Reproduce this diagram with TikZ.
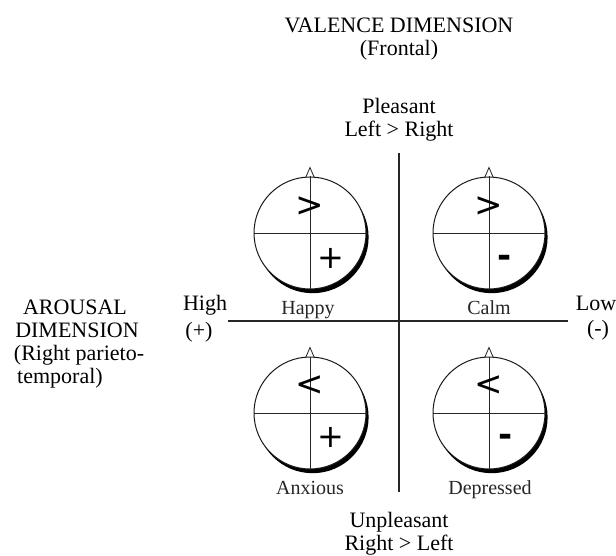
\documentclass[tikz,border=0pt]{standalone}
\usepackage{fontspec}
\setmainfont{Liberation Serif}
\newfontfamily\symfont{DejaVu Sans}
\newcommand\brainhead[3]{% name, x, y
  \node[shadowdisc] (#1s) at (#2+2.6,#3+4.2) {};
  \node[head] (#1) at (#2,#3) {};
  \draw[divider] (#1.north) -- (#1.south);
  \draw[divider] (#1.west) -- (#1.east);
  \draw[divider] ([shift={(-4.5,1.5)}]#1.north) -- ([shift={(0,-9)}]#1.north) -- ([shift={(4.5,1.5)}]#1.north);
}
\begin{document}
\begin{tikzpicture}[x=1pt,y=-1pt,
  lbl/.style={inner sep=0pt, anchor=base, font=\fontsize{22}{22}\selectfont, text=black},
  emo/.style={inner sep=0pt, anchor=base, font=\fontsize{20}{20}\selectfont, text=black!85},
  head/.style={circle, draw=black!90, line width=1pt, fill=white, minimum size=112pt, inner sep=0pt},
  shadowdisc/.style={circle, fill=black, minimum size=112pt, inner sep=0pt},
  axis/.style={line width=1.3pt, draw=black!85},
  divider/.style={line width=0.8pt, draw=black!85},
  chev/.style={inner sep=0pt, font=\symfont\fontsize{34}{34}\selectfont},
  plus/.style={inner sep=0pt, font=\symfont\fontsize{32}{32}\selectfont},
  minus/.style={inner sep=0pt, font=\symfont\bfseries\fontsize{34}{34}\selectfont},
]
\useasboundingbox (0,0) rectangle (616,556);

% titles
\node[lbl] (valence) at (399,33) {VALENCE DIMENSION};
\node[lbl] (frontal) at (399,56) {(Frontal)};
\node[lbl] (pleasant) at (399,114) {Pleasant};
\node[lbl] (leftright) at (399,137) {Left > Right};
\node[lbl] (unpleasant) at (399,527) {Unpleasant};
\node[lbl] (rightleft) at (399,550) {Right > Left};

% arousal
\node[lbl] (arousal) at (75,314) {AROUSAL};
\node[lbl] (dimension) at (77,337) {DIMENSION};
\node[lbl] (rightpar) at (79,360) {(Right parieto-};
\node[lbl, anchor=base west] (temporal) at (17,383) {temporal)};
\node[lbl] (high) at (205,310) {High};
\node[lbl] (highsign) at (199,337) {(+)};
\node[lbl] (low) at (596,310) {Low};
\node[lbl] (lowsign) at (598,335) {(-)};

% axes
\coordinate (vtop) at (399,153);
\coordinate (vbot) at (399,492);
\coordinate (hleft) at (228,321);
\coordinate (hright) at (568,321);
\draw[axis] (vtop) -- (vbot);
\draw[axis] (hleft) -- (hright);

% heads
\brainhead{happyhead}{310}{233}
\brainhead{calmhead}{489}{233}
\brainhead{anxioushead}{310}{413}
\brainhead{depressedhead}{489}{413}

\node[chev] (happygt) at (310,207) {>};
\node[plus] (happyplus) at (331,258) {+};
\node[chev] (calmgt) at (489,207) {>};
\node[minus] (calmminus) at (505,261) {-};
\node[chev] (anxiouslt) at (310,386) {<};
\node[plus] (anxiousplus) at (331,437) {+};
\node[chev] (depressedlt) at (489,386) {<};
\node[minus] (depressedminus) at (506,440) {-};

% emotion labels
\node[emo] (happy) at (308,314) {Happy};
\node[emo] (calm) at (489,314) {Calm};
\node[emo] (anxious) at (310,494) {Anxious};
\node[emo] (depressed) at (490,494) {Depressed};
\end{tikzpicture}
\end{document}
